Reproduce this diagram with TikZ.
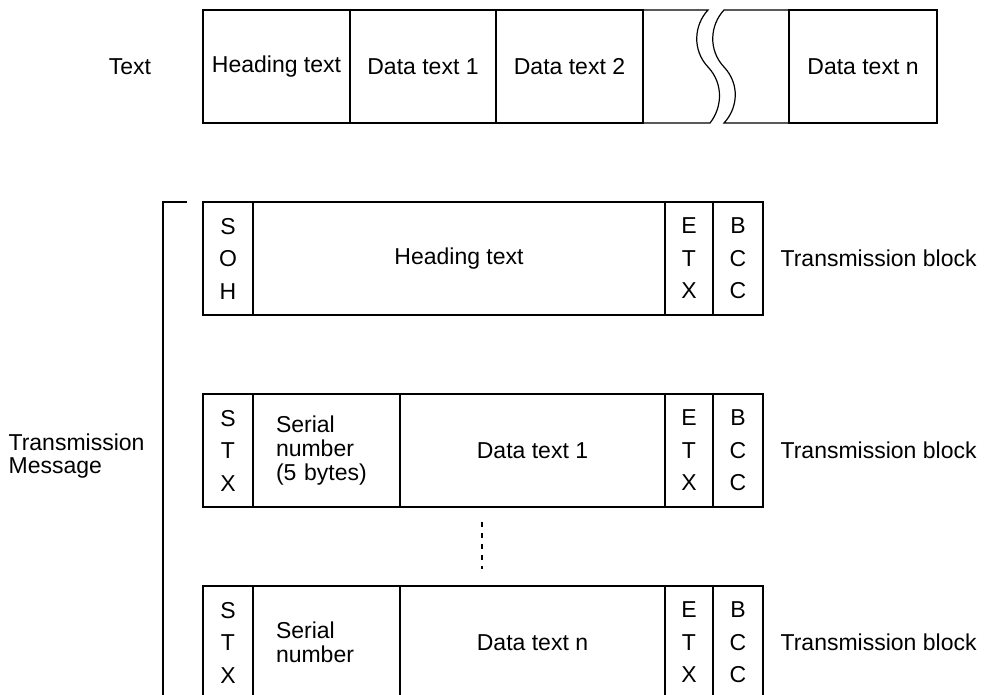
\documentclass[tikz,border=0pt]{standalone}
\usepackage{fontspec}
\setmainfont{Liberation Sans}
\usetikzlibrary{positioning}

\tikzset{
  cell/.style={draw, line width=1.2pt, inner sep=0pt, outer sep=0pt, minimum height=113pt,
    anchor=north west, align=center, font=\fontsize{23}{24}\selectfont},
  stack/.style={cell, font=\fontsize{23}{32.5}\selectfont},
  serial/.style={cell, align=left, text width=101pt},
  lbl/.style={align=left, inner sep=0pt, font=\fontsize{23}{23}\selectfont},
}

\begin{document}
\begin{tikzpicture}[x=1pt, y=-1pt, line width=1.2pt]
\useasboundingbox (0,0) rectangle (985,695);

% TEXT BAR
\node[lbl] (textlbl) at (130,67) {Text};
\node[cell, minimum width=147pt] (hd) at (203,10) {Heading text};
\node[cell, minimum width=146pt] (dt1) at (hd.north east) {Data text 1};
\node[cell, minimum width=147pt] (dt2) at (dt1.north east) {Data text 2};
\node[cell, minimum width=148pt] (dtn) at (789,10) {Data text n};

% the break
\draw (dt2.north east) -- (708,10)
  .. controls (694,25) and (692,50) .. (708,67)
  .. controls (724,84) and (722,108) .. (710,123) -- (dt2.south east);
\draw (dtn.north west) -- (724,10)
  .. controls (710,25) and (708,50) .. (724,67)
  .. controls (740,84) and (738,108) .. (724,123) -- (dtn.south west);

% BLOCK 1
\node[stack, minimum width=50pt] (soh) at (203,202) {S\\O\\H};
\node[cell, minimum width=412pt] (head) at (soh.north east) {Heading text};
\node[stack, minimum width=48pt] (etx1) at (head.north east) {E\\T\\X};
\node[stack, minimum width=50pt] (bcc1) at (etx1.north east) {B\\C\\C};
\node[lbl, right=17pt of bcc1] (tb1) {Transmission block};

% BLOCK 2
\node[stack, minimum width=50pt] (stx2) at (203,394) {S\\T\\X};
\node[serial, minimum width=147pt] (sn2) at (stx2.north east) {Serial\\number\\(5 bytes)};
\node[cell, minimum width=265pt] (data2) at (sn2.north east) {Data text 1};
\node[stack, minimum width=48pt] (etx2) at (data2.north east) {E\\T\\X};
\node[stack, minimum width=50pt] (bcc2) at (etx2.north east) {B\\C\\C};
\node[lbl, right=17pt of bcc2] (tb2) {Transmission block};

% BLOCK 3
\node[stack, minimum width=50pt] (stx3) at (203,586) {S\\T\\X};
\node[serial, minimum width=147pt] (sn3) at (stx3.north east) {Serial\\number};
\node[cell, minimum width=265pt] (data3) at (sn3.north east) {Data text n};
\node[stack, minimum width=48pt] (etx3) at (data3.north east) {E\\T\\X};
\node[stack, minimum width=50pt] (bcc3) at (etx3.north east) {B\\C\\C};
\node[lbl, right=17pt of bcc3] (tb3) {Transmission block};

% NOTES
\coordinate (dtop) at (482,522);
\coordinate (dbot) at (482,569);
\draw[dash pattern=on 5pt off 6pt] (dtop) -- (dbot);

\coordinate (brtop) at (163,202);
\draw (187,202) -- (brtop) -- (163,700);
\node[lbl, anchor=west] (msg) at (8,456) {Transmission\\Message};

\end{tikzpicture}
\end{document}
